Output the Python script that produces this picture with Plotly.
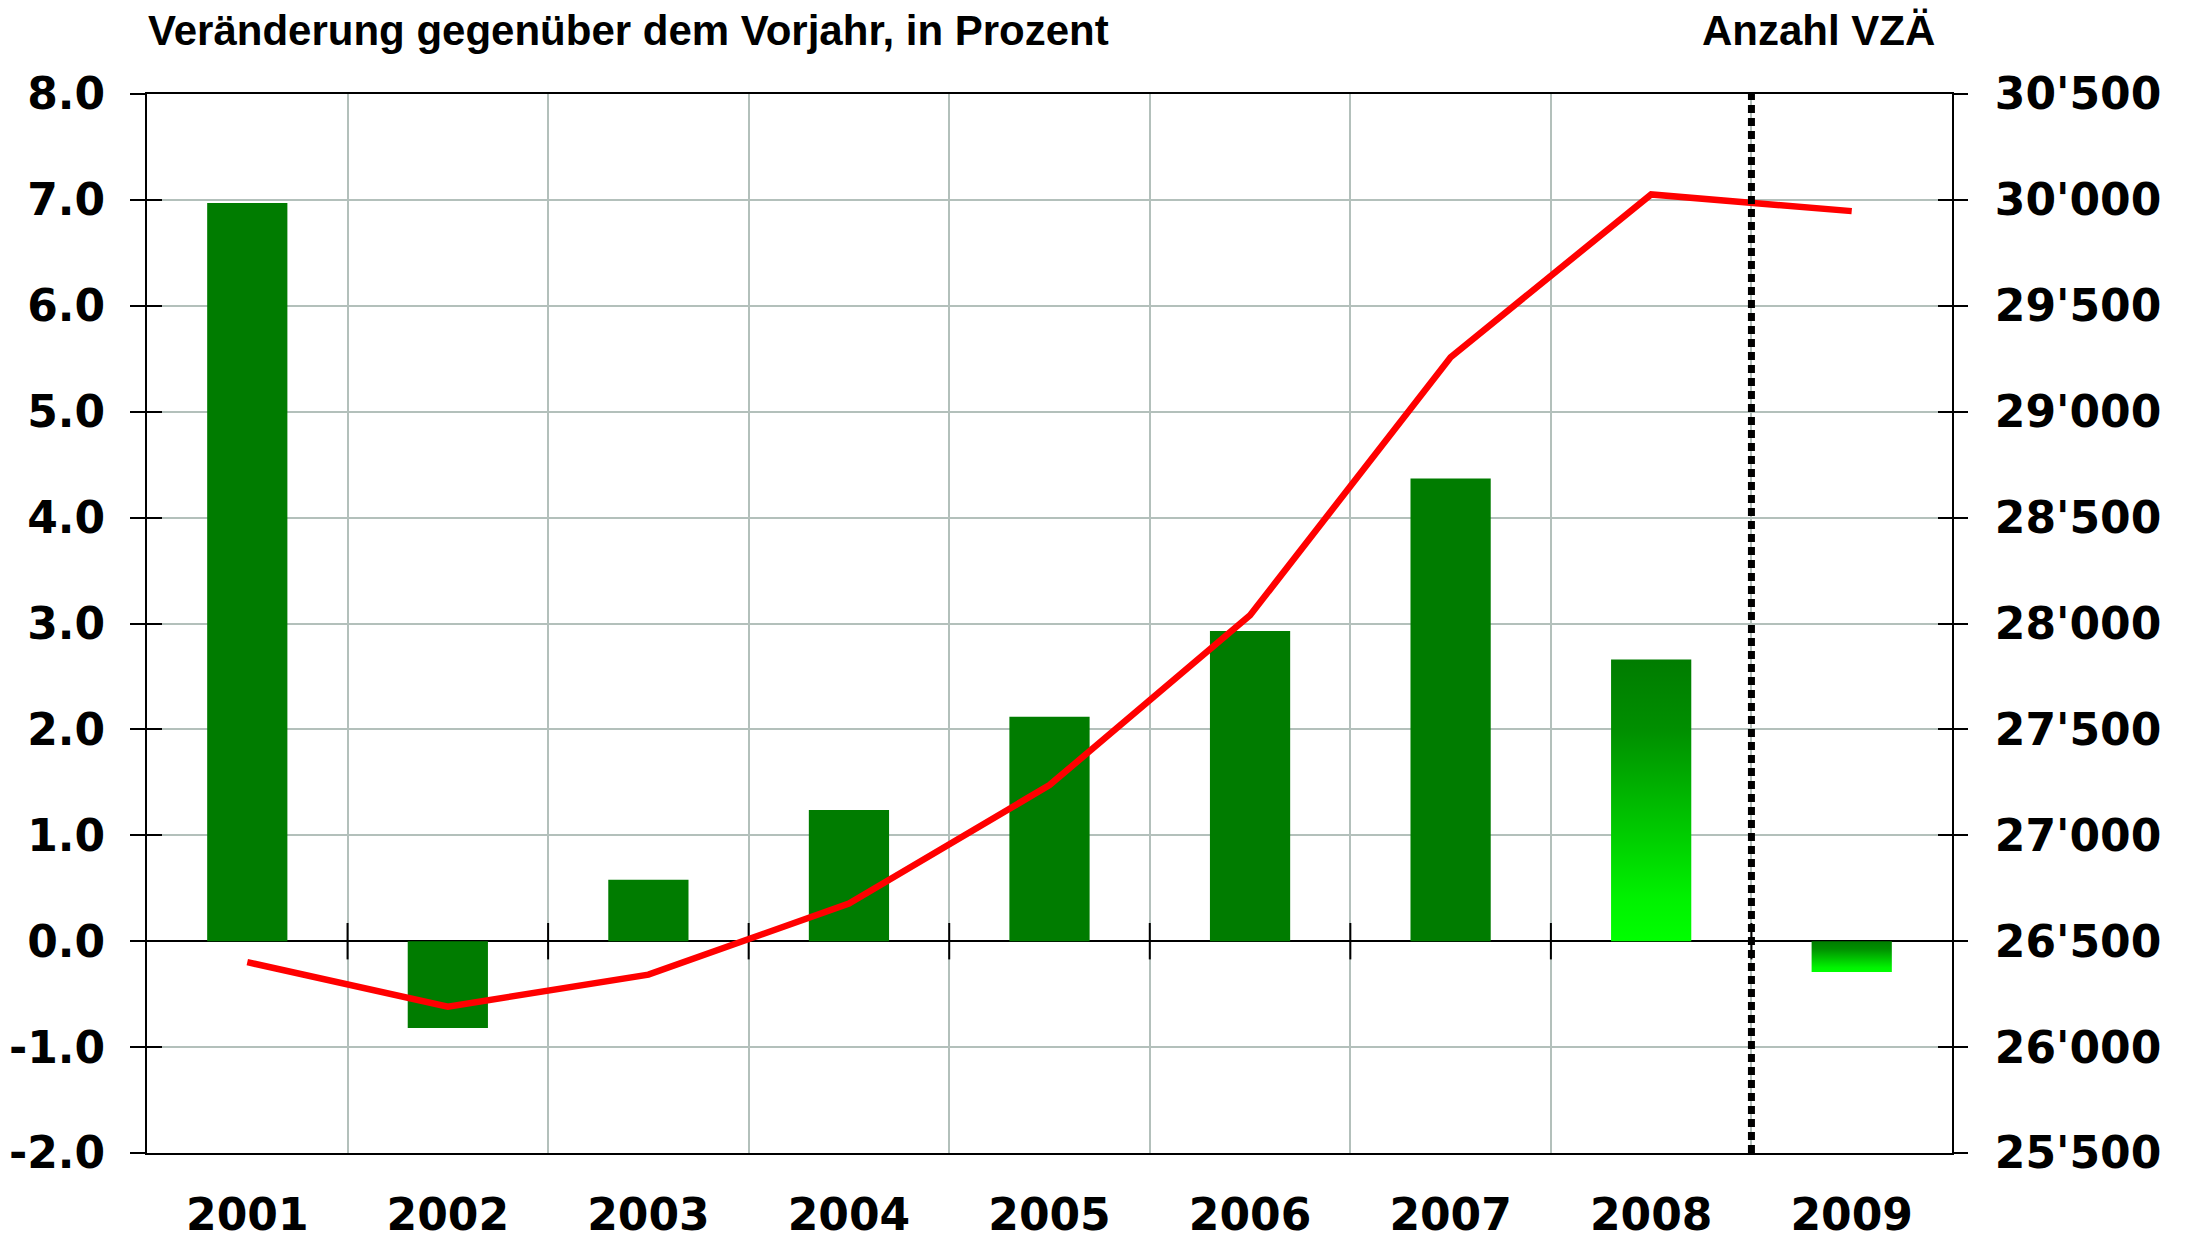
import plotly.graph_objects as go

years = ["2001", "2002", "2003", "2004", "2005", "2006", "2007", "2008", "2009"]
change_pct = [6.97, -0.82, 0.58, 1.24, 2.12, 2.93, 4.37, 2.66, -0.29]
vza = [26401, 26191, 26342, 26678, 27237, 28039, 29257, 30026, 29947]
gradient_years = ["2008", "2009"]  # bars drawn with a vertical gradient (forecast)

left_ticks = [-2, -1, 0, 1, 2, 3, 4, 5, 6, 7, 8]
left_ticktext = ["-2.0", "-1.0", "0.0", "1.0", "2.0", "3.0", "4.0", "5.0", "6.0", "7.0", "8.0"]
right_ticks = [25500, 26000, 26500, 27000, 27500, 28000, 28500, 29000, 29500, 30000, 30500]

GREEN = "#007c00"
LIME = "#00ff00"
GRID = "#b3c0bb"
BAR_W = 0.4
TICKFONT = dict(family="DejaVu Sans", size=44, color="black", weight="bold")
TITLEFONT = dict(family="Liberation Sans", size=42, color="black", weight="bold")

xs = list(range(len(years)))
fig = go.Figure()

bar_colors = ["rgba(0,0,0,0)" if y in gradient_years else GREEN for y in years]
fig.add_trace(go.Bar(x=xs, y=change_pct, width=BAR_W, marker=dict(color=bar_colors, line=dict(width=0)),
                     showlegend=False, hoverinfo="skip"))

for i, y in enumerate(years):
    if y in gradient_years:
        v = change_pct[i]
        fig.add_trace(go.Scatter(
            x=[i - BAR_W / 2, i + BAR_W / 2, i + BAR_W / 2, i - BAR_W / 2, i - BAR_W / 2],
            y=[0, 0, v, v, 0], mode="none", fill="toself",
            fillgradient=dict(type="vertical",
                              colorscale=[[0, LIME], [0.15, "#00f200"], [0.75, "#008f00"], [1, GREEN]]),
            showlegend=False, hoverinfo="skip"))

fig.add_trace(go.Scatter(x=xs, y=vza, yaxis="y2", mode="lines",
                         line=dict(color="#ff0000", width=6.5), showlegend=False, hoverinfo="skip"))

# tick marks crossing the zero line at category boundaries
bounds = [i + 0.5 for i in range(len(years) - 1)]
fig.add_trace(go.Scatter(x=bounds, y=[0] * len(bounds), mode="markers",
                         marker=dict(symbol="line-ns", size=26, line=dict(width=2, color="black")),
                         showlegend=False, hoverinfo="skip"))

# inside-tick helper axes
fig.add_trace(go.Scatter(x=[None], y=[None], yaxis="y3", showlegend=False, hoverinfo="skip"))
fig.add_trace(go.Scatter(x=[None], y=[None], yaxis="y4", showlegend=False, hoverinfo="skip"))

fig.add_shape(type="line", xref="x", yref="paper", x0=bounds[-1], x1=bounds[-1], y0=0, y1=1,
              line=dict(color="black", width=7, dash="8px,5px"), layer="above")

fig.add_annotation(text="Veränderung gegenüber dem Vorjahr, in Prozent", xref="paper", yref="paper",
                   x=-0.0006, y=1.0595, xanchor="left", yanchor="middle", showarrow=False, font=TITLEFONT)
fig.add_annotation(text="Anzahl VZÄ", xref="paper", yref="paper",
                   x=0.9917, y=1.0595, xanchor="right", yanchor="middle", showarrow=False, font=TITLEFONT)

fig.update_layout(
    width=2185, height=1238,
    margin=dict(l=139, r=241, t=86, b=93),
    paper_bgcolor="white", plot_bgcolor="white",
    separators=".'",
    bargap=0.6,
    xaxis=dict(range=[-0.5, len(years) - 0.5], tickvals=xs, ticktext=years, ticks="",
               showgrid=False, showline=True, mirror=True, linecolor="black", linewidth=2,
               tickfont=TICKFONT, ticklabelstandoff=22, zeroline=False, automargin=False,
               minor=dict(tick0=0.5, dtick=1, showgrid=True, gridcolor=GRID, gridwidth=2, ticks="")),
    yaxis=dict(range=[-2, 8], tickvals=left_ticks, ticktext=left_ticktext, ticks="outside", ticklen=15,
               tickwidth=2, tickcolor="black", showline=True, linecolor="black", linewidth=2,
               showgrid=True, gridcolor=GRID, gridwidth=2, zeroline=True, zerolinecolor="black",
               zerolinewidth=2, tickfont=TICKFONT, ticklabelstandoff=16, automargin=False),
    yaxis2=dict(range=[25500, 30500], tickvals=right_ticks, tickformat=",", overlaying="y", side="right",
                ticks="outside", ticklen=14, tickwidth=2, tickcolor="black", showline=True,
                linecolor="black", linewidth=2, showgrid=False, zeroline=False, tickfont=TICKFONT,
                ticklabelstandoff=18, automargin=False),
    yaxis3=dict(range=[-2, 8], tickvals=left_ticks, overlaying="y", side="left", ticks="inside",
                ticklen=15, tickwidth=2, tickcolor="black", showticklabels=False, showline=False,
                showgrid=False, zeroline=False, automargin=False),
    yaxis4=dict(range=[25500, 30500], tickvals=right_ticks, overlaying="y", side="right", ticks="inside",
                ticklen=14, tickwidth=2, tickcolor="black", showticklabels=False, showline=False,
                showgrid=False, zeroline=False, automargin=False),
)

fig.write_html("out.html")
